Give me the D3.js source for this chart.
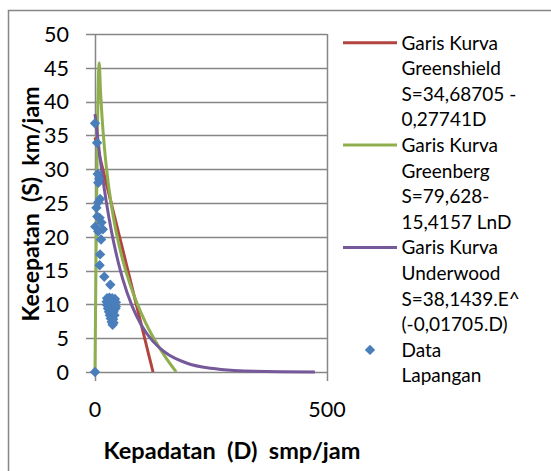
<html>
    <head>
        <title>Kecepatan vs Kepadatan</title>
        <script type="text/javascript" src="https://cdn.jsdelivr.net/npm/d3@7"></script>
        <style type="text/css">
            body { margin: 0; background: #fff; }
            text { font-family: Lato, "Open Sans", sans-serif; fill: #000; }
        </style>
    </head>
    <body>
        <script type="text/javascript">

            // field data (D = kepadatan smp/jam, S = kecepatan km/jam)
            var dataD = [0, 0, 4.5, 6, 9, 7, 11, 7, 5, 3, 0.5, 14, 7, 17, 13, 10, 11, 10, 20, 33,
                26, 31, 37, 43, 25, 30, 35, 40, 45, 26, 31, 36, 41, 45, 28, 34, 39, 44,
                30, 35, 40, 32, 37, 42, 34, 39, 36, 40, 38];
            var dataS = [0, 36.8, 33.9, 29.3, 28.6, 28.0, 25.6, 25.1, 23.0, 24.3, 21.5, 22.1, 20.8, 21.1, 19.6, 22.8, 17.4, 15.8, 14.1, 12.9,
                10.9, 11.0, 10.9, 10.8, 10.4, 10.4, 10.5, 10.4, 10.3, 9.9, 9.9, 9.8, 9.9, 9.7, 9.4, 9.4, 9.3, 9.4,
                8.9, 8.8, 8.9, 8.4, 8.3, 8.4, 7.9, 7.8, 7.4, 7.3, 7.0];

            // fitted curves
            var greenshieldD = [0, 125];
            var greenshieldS = [34.69, 0];
            var greenbergD = [0, 9, 12, 15, 20, 25, 30, 40, 50, 60, 75, 90, 110, 130, 150, 175];
            var greenbergS = [0, 45.76, 41.32, 37.88, 33.45, 30.01, 27.20, 22.76, 19.32, 16.51, 13.07, 10.26, 7.17, 4.59, 2.39, 0.01];
            var underwoodD = [0, 10, 20, 30, 40, 50, 60, 80, 100, 125, 150, 200, 250, 300, 400, 474];
            var underwoodS = [38.14, 32.16, 27.12, 22.87, 19.28, 16.26, 13.71, 9.75, 6.93, 4.53, 2.96, 1.26, 0.54, 0.23, 0.04, 0.01];

            var yTicks = [0, 5, 10, 15, 20, 25, 30, 35, 40, 45, 50];
            var xTicks = [0, 500];

            var legendItems = [
                { type: 'line', color: '#B1443F', lines: ['Garis Kurva', 'Greenshield', 'S=34,68705 -', '0,27741D'] },
                { type: 'line', color: '#8FAF4E', lines: ['Garis Kurva', 'Greenberg', 'S=79,628-', '15,4157 LnD'] },
                { type: 'line', color: '#76599B', lines: ['Garis Kurva', 'Underwood', 'S=38,1439.E^', '(-0,01705.D)'] },
                { type: 'marker', color: '#4A7EBB', lines: ['Data', 'Lapangan'] }
            ];

            function zip(xs, ys) {
                return xs.map(function (x, i) { return { d: x, s: ys[i] }; });
            }

            function makeChart() {
                var width = 551;
                var height = 471;
                var plot = { left: 95, right: 327, top: 34, bottom: 372 };
                var gridColor = '#868686';

                var svg = d3.select('body')
                    .append('svg')
                        .attr('width', width)
                        .attr('height', height);

                // chart area border
                svg.append('rect')
                    .attr('x', 8.5).attr('y', 10.5)
                    .attr('width', 700).attr('height', 600)
                    .attr('fill', 'none')
                    .attr('stroke', gridColor)
                    .attr('stroke-width', 1.5);

                var xScale = d3.scaleLinear().domain([0, 500]).range([plot.left, plot.right]);
                var yScale = d3.scaleLinear().domain([0, 50]).range([plot.bottom, plot.top]);

                // horizontal gridlines + y labels
                var yAxis = svg.append('g').attr('id', 'y-axis');
                yAxis.selectAll('line')
                    .data(yTicks)
                    .enter()
                    .append('line')
                        .attr('x1', plot.left - 9)
                        .attr('x2', plot.right)
                        .attr('y1', function (d) { return Math.round(yScale(d)) + 0.5; })
                        .attr('y2', function (d) { return Math.round(yScale(d)) + 0.5; })
                        .attr('stroke', gridColor)
                        .attr('stroke-width', 1.5);
                yAxis.selectAll('text')
                    .data(yTicks)
                    .enter()
                    .append('text')
                        .attr('x', 69)
                        .attr('y', function (d) { return yScale(d); })
                        .attr('dy', '0.36em')
                        .attr('text-anchor', 'end')
                        .style('font-size', '21.5px')
                        .text(function (d) { return d; });

                // vertical lines + x labels
                var xAxis = svg.append('g').attr('id', 'x-axis');
                xAxis.selectAll('line')
                    .data(xTicks)
                    .enter()
                    .append('line')
                        .attr('x1', function (d) { return Math.round(xScale(d)) + 0.5; })
                        .attr('x2', function (d) { return Math.round(xScale(d)) + 0.5; })
                        .attr('y1', plot.top)
                        .attr('y2', plot.bottom + 9)
                        .attr('stroke', gridColor)
                        .attr('stroke-width', 1.5);
                xAxis.selectAll('text')
                    .data(xTicks)
                    .enter()
                    .append('text')
                        .attr('x', function (d) { return xScale(d); })
                        .attr('y', 417)
                        .attr('text-anchor', 'middle')
                        .style('font-size', '21.5px')
                        .text(function (d) { return d; });

                // axis titles
                svg.append('text')
                    .attr('x', 232)
                    .attr('y', 459)
                    .attr('text-anchor', 'middle')
                    .style('font-size', '23.5px')
                    .style('font-weight', 'bold')
                    .style('white-space', 'pre')
                    .text('Kepadatan  (D)  smp/jam');

                svg.append('text')
                    .attr('transform', 'translate(39,204) rotate(-90)')
                    .attr('text-anchor', 'middle')
                    .style('font-size', '23px')
                    .style('font-weight', 'bold')
                    .style('white-space', 'pre')
                    .text('Kecepatan  (S)  km/jam');

                // curves
                var line = d3.line()
                    .x(function (p) { return xScale(p.d); })
                    .y(function (p) { return yScale(p.s); })
                    .curve(d3.curveMonotoneX);

                var curves = [
                    { pts: zip(greenshieldD, greenshieldS), color: legendItems[0].color },
                    { pts: zip(greenbergD, greenbergS), color: legendItems[1].color },
                    { pts: zip(underwoodD, underwoodS), color: legendItems[2].color }
                ];

                svg.append('g').attr('id', 'curves')
                    .selectAll('path')
                    .data(curves)
                    .enter()
                    .append('path')
                        .attr('d', function (c) { return line(c.pts); })
                        .attr('fill', 'none')
                        .attr('stroke', function (c) { return c.color; })
                        .attr('stroke-width', 3)
                        .attr('stroke-linejoin', 'round');

                // field data diamonds
                var diamond = d3.symbol().type(d3.symbolSquare).size(54);
                svg.append('g').attr('id', 'points')
                    .selectAll('path')
                    .data(zip(dataD, dataS))
                    .enter()
                    .append('path')
                        .attr('d', diamond)
                        .attr('transform', function (p) {
                            return 'translate(' + xScale(p.d) + ',' + yScale(p.s) + ') rotate(45)';
                        })
                        .attr('fill', legendItems[3].color);

                // legend
                var lineGap = 25.6;
                var legend = svg.append('g').attr('id', 'legend');
                var row = 0;
                legendItems.forEach(function (item) {
                    var yTop = 42.7 + row * lineGap;
                    if (item.type === 'line') {
                        legend.append('line')
                            .attr('x1', 343).attr('x2', 397)
                            .attr('y1', yTop).attr('y2', yTop)
                            .attr('stroke', item.color)
                            .attr('stroke-width', 3);
                    } else {
                        legend.append('path')
                            .attr('d', diamond)
                            .attr('transform', 'translate(370,' + yTop + ') rotate(45)')
                            .attr('fill', item.color);
                    }
                    item.lines.forEach(function (t, i) {
                        legend.append('text')
                            .attr('x', 401.5)
                            .attr('y', yTop + i * lineGap)
                            .attr('dy', '0.36em')
                            .style('font-size', '19px')
                            .text(t);
                    });
                    row += item.lines.length;
                });
            }

            makeChart();

        </script>
    </body>
</html>
